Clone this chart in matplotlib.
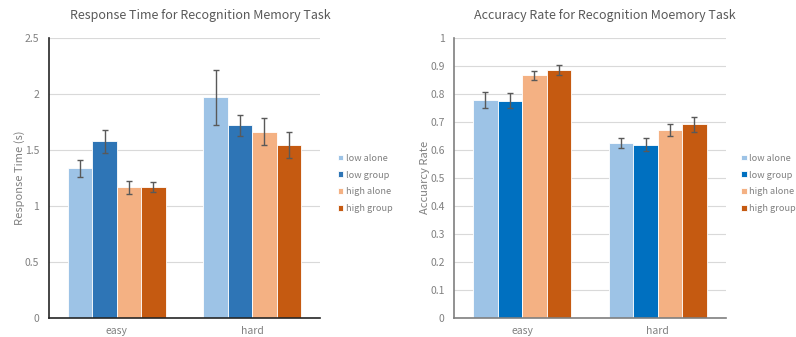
import matplotlib
matplotlib.use("Agg")
import matplotlib.pyplot as plt
import numpy as np

plt.rcParams['font.family'] = ['Noto Sans CJK SC', 'DejaVu Sans']

categories = ["easy", "hard"]
series = ["low alone", "low group", "high alone", "high group"]

rt_values = {
    "low alone": [1.335, 1.971],
    "low group": [1.576, 1.719],
    "high alone": [1.166, 1.662],
    "high group": [1.166, 1.543],
}
rt_errors = {
    "low alone": [0.077, 0.245],
    "low group": [0.102, 0.095],
    "high alone": [0.060, 0.122],
    "high group": [0.046, 0.113],
}
acc_values = {
    "low alone": [0.778, 0.624],
    "low group": [0.775, 0.619],
    "high alone": [0.866, 0.671],
    "high group": [0.885, 0.691],
}
acc_errors = {
    "low alone": [0.027, 0.017],
    "low group": [0.027, 0.024],
    "high alone": [0.017, 0.021],
    "high group": [0.017, 0.027],
}

rt_colors = ["#9DC3E6", "#2E75B6", "#F4B183", "#C55A11"]
acc_colors = ["#9DC3E6", "#0070C0", "#F4B183", "#C55A11"]

title_color = "#595959"
tick_color = "#808080"

fig = plt.figure(figsize=(7.96, 3.37), dpi=100)
ax1 = fig.add_axes([0.0616, 0.0564, 0.3404, 0.8316])
ax2 = fig.add_axes([0.5707, 0.0564, 0.3410, 0.8316])


def draw(ax, values, errors, colors, title, title_x, ylabel, ymax, ystep,
         yfmt, legend_x, spine_color, ylabelpad):
    x = np.arange(len(categories))
    w = 0.18
    for i, s in enumerate(series):
        pos = x + (i - 1.5) * w
        ax.bar(pos, values[s], width=w, color=colors[i], edgecolor="white",
               linewidth=0.6, label=s, zorder=2)
        ax.errorbar(pos, values[s], yerr=errors[s], fmt="none",
                    ecolor="#595959", elinewidth=1.0, capsize=2.5,
                    capthick=1.0, zorder=3)
    ax.set_xlim(-0.5, 1.5)
    ax.set_ylim(0, ymax)
    ticks = np.arange(0, ymax + ystep / 2, ystep)
    ax.set_yticks(ticks)
    ax.set_yticklabels([yfmt(t) for t in ticks])
    ax.set_xticks(x)
    ax.set_xticklabels(categories)
    ax.yaxis.grid(True, color="#D9D9D9", linewidth=0.8, zorder=0)
    ax.set_axisbelow(True)
    for sp in ["top", "right"]:
        ax.spines[sp].set_visible(False)
    ax.spines["left"].set_color(spine_color)
    ax.spines["bottom"].set_color(spine_color)
    ax.spines["left"].set_linewidth(1.2)
    ax.spines["bottom"].set_linewidth(1.2)
    ax.tick_params(axis="y", length=0, labelsize=7.5, colors=tick_color, pad=7)
    ax.tick_params(axis="x", length=0, labelsize=7.5, colors=tick_color, pad=6)
    ax.set_ylabel(ylabel, fontsize=8, color=tick_color, labelpad=ylabelpad)
    fig.text(title_x, 1 - 15 / 337, title, fontsize=9, color=title_color,
             ha="center", va="center")
    leg = ax.legend(loc="center left", bbox_to_anchor=(legend_x, 0.48),
                    frameon=False, fontsize=6.6, handlelength=0.6,
                    handleheight=0.6, handletextpad=0.25, labelspacing=0.85,
                    borderaxespad=0, borderpad=0)
    for t in leg.get_texts():
        t.set_color(tick_color)


def fmt_rt(t):
    return "0" if t == 0 else ("%g" % t)


def fmt_acc(t):
    return "%g" % round(t, 1)


draw(ax1, rt_values, rt_errors, rt_colors,
     "Response Time for Recognition Memory Task", 200 / 796,
     "Response Time (s)", 2.5, 0.5, fmt_rt, 1.066, "#262626", 0)
draw(ax2, acc_values, acc_errors, acc_colors,
     "Accuracy Rate for Recognition Moemory Task", 605 / 796,
     "Accuarcy Rate", 1.0, 0.1, fmt_acc, 1.058, "#7F7F7F", 0)

fig.savefig("out.png", dpi=100)
